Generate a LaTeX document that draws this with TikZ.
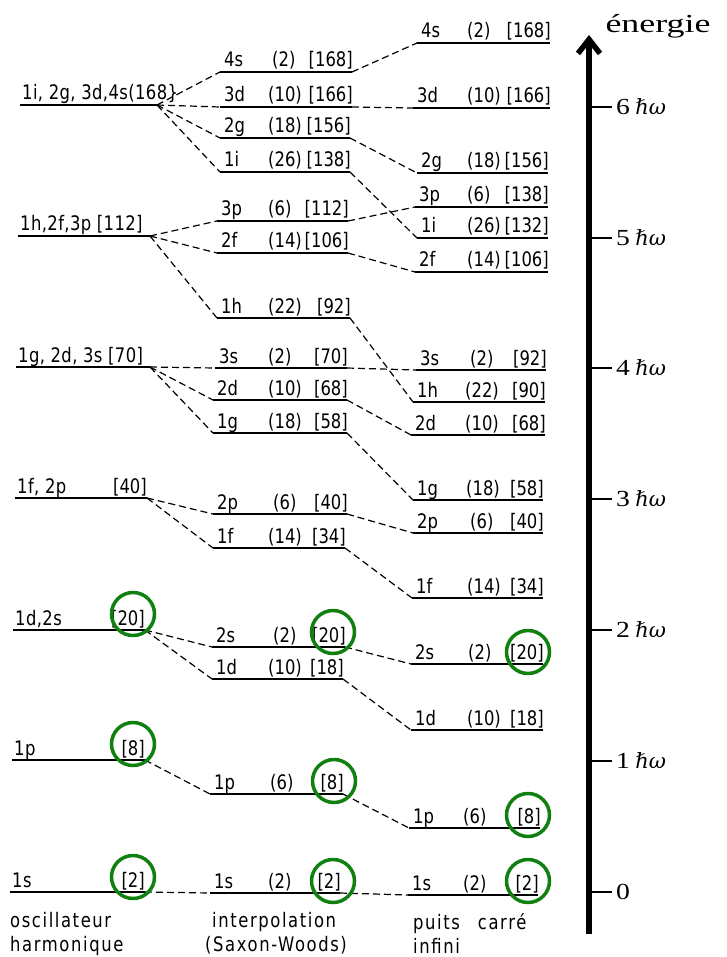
\documentclass[tikz,border=0pt]{standalone}
\usepackage{fontspec}
\usetikzlibrary{arrows.meta}
\newfontfamily\stencil{DejaVu Sans}[FakeStretch=0.82]
\newfontfamily\stencilm{DejaVu Sans}[FakeStretch=0.82, LetterSpace=2]
\newfontfamily\stencilw{DejaVu Sans}[FakeStretch=0.82, LetterSpace=8]
\newfontfamily\axisfont{Liberation Serif}
\newfontfamily\hbarfont{DejaVu Serif}
\definecolor{circgreen}{RGB}{16,128,16}
\tikzset{
  lvl/.style={line width=2pt},
  conn/.style={line width=1.2pt, dash pattern=on 7pt off 4pt},
  lab/.style={font=\fontsize{20}{21}\selectfont\stencil, inner sep=0pt},
  mlab/.style={font=\fontsize{20}{21}\selectfont\stencilm, inner sep=0pt},
  wlab/.style={font=\fontsize{20}{21}\selectfont\stencilw, inner sep=0pt, anchor=base west},
  hl/.style={circle, draw=circgreen, line width=3.5pt, minimum size=43pt, inner sep=0pt},
  axisline/.style={line width=5.5pt, -{Straight Barb[length=14pt,width=22pt]}},
  tickline/.style={line width=1.3pt},
  ticklab/.style={font=\fontsize{23}{24}\selectfont\axisfont, inner sep=0pt},
  hwlab/.style={font=\fontsize{21}{22}\selectfont\hbarfont\itshape, inner sep=0pt}
}
% column-1 level: name, xL, xR, y, text, total
\newcommand\lvlA[6]{%
  \coordinate (#1L) at (#2,#4);
  \coordinate (#1R) at (#3,#4);
  \draw[lvl] (#1L) -- (#1R);
  \node[mlab, anchor=base west, xshift=2pt, yshift=5pt] (#1o) at (#1L) {#5};
  \node[lab, anchor=base east, yshift=5pt] (#1t) at (#1R) {#6};
}
% level with degeneracy: name, xL, xR, y, orbital, deg x, deg, total
\newcommand\lvlX[8]{%
  \coordinate (#1L) at (#2,#4);
  \coordinate (#1R) at (#3,#4);
  \draw[lvl] (#1L) -- (#1R);
  \node[lab, anchor=base west, xshift=4pt, yshift=5pt] (#1o) at (#1L) {#5};
  \node[lab, anchor=base west, yshift=5pt] (#1d) at (#6,#4) {#7};
  \node[lab, anchor=base east, xshift=1pt, yshift=5pt] (#1t) at (#1R) {#8};
}
\begin{document}
\begin{tikzpicture}[x=1pt,y=-1pt]
\useasboundingbox (0,0) rectangle (726,957);

% column 1: harmonic oscillator
\lvlA{A168}{20}{157}{105}{1i, 2g, 3d,4s(168\}}{}
\lvlA{A112}{18}{150}{236}{1h,2f,3p [112]}{}
\lvlA{A70}{16}{150}{367}{1g, 2d, 3s [70]}{}
\lvlA{A40}{15}{147}{498}{1f, 2p}{[40]}
\lvlA{A20}{13}{145}{630}{1d,2s}{[20]}
\lvlA{A8}{12}{145}{760}{1p}{[8]}
\lvlA{A2}{10}{145}{892}{1s}{[2]}

% column 2: interpolation (Saxon-Woods)
\lvlX{B4s}{220}{352}{72}{4s}{272}{(2)}{[168]}
\lvlX{B3d}{220}{352}{107}{3d}{268}{(10)}{[166]}
\lvlX{B2g}{220}{350}{138}{2g}{268}{(18)}{[156]}
\lvlX{B1i}{220}{350}{172}{1i}{268}{(26)}{[138]}
\lvlX{B3p}{217}{348}{221}{3p}{268}{(6)}{[112]}
\lvlX{B2f}{217}{348}{253}{2f}{268}{(14)}{[106]}
\lvlX{B1h}{217}{350}{318}{1h}{268}{(22)}{[92]}
\lvlX{B3s}{215}{347}{368}{3s}{268}{(2)}{[70]}
\lvlX{B2d}{213}{347}{400}{2d}{268}{(10)}{[68]}
\lvlX{B1g}{213}{347}{433}{1g}{268}{(18)}{[58]}
\lvlX{B2p}{213}{347}{514}{2p}{273}{(6)}{[40]}
\lvlX{B1f}{213}{345}{548}{1f}{268}{(14)}{[34]}
\lvlX{B2s}{212}{345}{647}{2s}{273}{(2)}{[20]}
\lvlX{B1d}{212}{343}{679}{1d}{268}{(10)}{[18]}
\lvlX{B1p}{210}{343}{794}{1p}{270}{(6)}{[8]}
\lvlX{B1s}{210}{340}{893}{1s}{268}{(2)}{[2]}

% column 3: infinite square well
\lvlX{C4s}{417}{550}{43}{4s}{467}{(2)}{[168]}
\lvlX{C3d}{413}{550}{108}{3d}{467}{(10)}{[166]}
\lvlX{C2g}{417}{548}{173}{2g}{467}{(18)}{[156]}
\lvlX{C3p}{415}{548}{207}{3p}{467}{(6)}{[138]}
\lvlX{C1i}{417}{548}{238}{1i}{467}{(26)}{[132]}
\lvlX{C2f}{415}{548}{272}{2f}{467}{(14)}{[106]}
\lvlX{C3s}{416}{546}{370}{3s}{470}{(2)}{[92]}
\lvlX{C1h}{413}{545}{402}{1h}{465}{(22)}{[90]}
\lvlX{C2d}{411}{545}{435}{2d}{465}{(10)}{[68]}
\lvlX{C1g}{413}{543}{500}{1g}{466}{(18)}{[58]}
\lvlX{C2p}{413}{543}{533}{2p}{470}{(6)}{[40]}
\lvlX{C1f}{412}{543}{598}{1f}{467}{(14)}{[34]}
\lvlX{C2s}{411}{543}{664}{2s}{468}{(2)}{[20]}
\lvlX{C1d}{411}{543}{730}{1d}{467}{(10)}{[18]}
\lvlX{C1p}{409}{540}{828}{1p}{463}{(6)}{[8]}
\lvlX{C1s}{408}{538}{895}{1s}{463}{(2)}{[2]}

% connectors
\foreach \a/\b in {A168/B4s,A168/B3d,A168/B2g,A168/B1i,A112/B3p,A112/B2f,A112/B1h,
  A70/B3s,A70/B2d,A70/B1g,A40/B2p,A40/B1f,A20/B2s,A20/B1d,A8/B1p,A2/B1s}
  \draw[conn] (\a R) -- (\b L);
\foreach \s in {4s,3d,2g,1i,3p,2f,1h,3s,2d,1g,2p,1f,2s,1d,1p,1s}
  \draw[conn] (B\s R) -- (C\s L);

% highlight circles
\node[hl] (h1) at (133,614) {};
\node[hl] (h2) at (133,744) {};
\node[hl] (h3) at (133,877) {};
\node[hl] (h4) at (333,632) {};
\node[hl] (h5) at (334,781) {};
\node[hl] (h6) at (333,881) {};
\node[hl] (h7) at (528,652) {};
\node[hl] (h8) at (528,815) {};
\node[hl] (h9) at (528,881) {};

% column captions
\node[wlab] (cap1a) at (10,927) {oscillateur};
\node[wlab] (cap1b) at (10,951) {harmonique};
\node[wlab] (cap2a) at (212,927) {interpolation};
\node[wlab] (cap2b) at (205,951) {(Saxon-Woods)};
\node[wlab] (cap3a) at (413,929) {puits\hspace{18pt}carré};
\node[wlab] (cap3b) at (413,953) {infini};

% energy axis
\coordinate (axB) at (589,934);
\coordinate (axT) at (589,35);
\draw[axisline] (axB) -- (axT);
\node[anchor=base, inner sep=0pt, font=\fontsize{26}{28}\selectfont\axisfont] (en) at (658,33) {\scalebox{1.38}[1]{énergie}};
\coordinate (tk0) at (589,892);
\coordinate (te0) at (612,892);
\draw[tickline] (tk0) -- (te0);
\node[ticklab, anchor=west] (tl0) at ([xshift=4pt]te0) {\scalebox{1.2}[1]{0}};
\foreach \y/\n in {761/1, 630/2, 499/3, 368/4, 238/5, 107/6}{
  \coordinate (tk\n) at (589,\y);
  \coordinate (te\n) at (612,\y);
  \draw[tickline] (tk\n) -- (te\n);
  \node[ticklab, anchor=west] (tl\n) at ([xshift=4pt]te\n) {\scalebox{1.2}[1]{\n}};
  \node[hwlab, anchor=base west] (tw\n) at ([xshift=5pt]tl\n.base east) {ℏω};
}
\end{tikzpicture}
\end{document}
